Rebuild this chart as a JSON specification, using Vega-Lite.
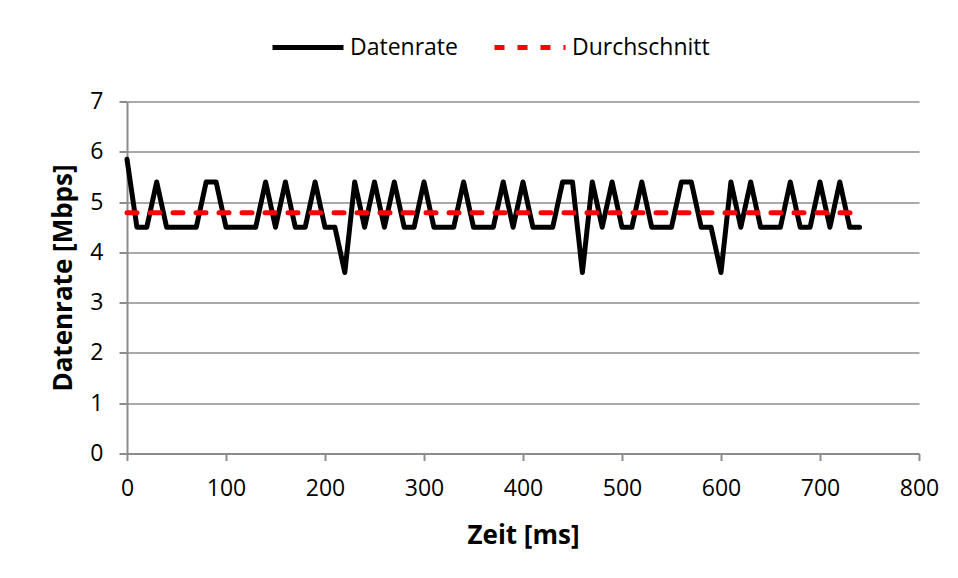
{
  "$schema": "https://vega.github.io/schema/vega-lite/v6.json",
  "width": 792,
  "height": 352,
  "autosize": {"type": "none"},
  "padding": {"left": 127, "top": 101.5, "right": 39, "bottom": 124.5},
  "background": "white",
  "config": {
    "font": "Open Sans",
    "view": {"stroke": null},
    "axis": {
      "gridColor": "#8c8c8c",
      "gridWidth": 1.5,
      "domainColor": "#8c8c8c",
      "domainWidth": 2,
      "tickColor": "#8c8c8c",
      "tickWidth": 2,
      "labelColor": "#000000",
      "labelFontSize": 23,
      "labelFont": "Open Sans",
      "labelFlush": false,
      "labelOverlap": false,
      "titleFont": "Open Sans",
      "titleFontSize": 26,
      "titleFontWeight": "bold",
      "titleColor": "#000000"
    }
  },
  "data": {
    "values": [
      {"t": 0, "v": 5.85, "s": "Datenrate"},
      {"t": 10, "v": 4.5, "s": "Datenrate"},
      {"t": 20, "v": 4.5, "s": "Datenrate"},
      {"t": 30, "v": 5.4, "s": "Datenrate"},
      {"t": 40, "v": 4.5, "s": "Datenrate"},
      {"t": 50, "v": 4.5, "s": "Datenrate"},
      {"t": 60, "v": 4.5, "s": "Datenrate"},
      {"t": 70, "v": 4.5, "s": "Datenrate"},
      {"t": 80, "v": 5.4, "s": "Datenrate"},
      {"t": 90, "v": 5.4, "s": "Datenrate"},
      {"t": 100, "v": 4.5, "s": "Datenrate"},
      {"t": 110, "v": 4.5, "s": "Datenrate"},
      {"t": 120, "v": 4.5, "s": "Datenrate"},
      {"t": 130, "v": 4.5, "s": "Datenrate"},
      {"t": 140, "v": 5.4, "s": "Datenrate"},
      {"t": 150, "v": 4.5, "s": "Datenrate"},
      {"t": 160, "v": 5.4, "s": "Datenrate"},
      {"t": 170, "v": 4.5, "s": "Datenrate"},
      {"t": 180, "v": 4.5, "s": "Datenrate"},
      {"t": 190, "v": 5.4, "s": "Datenrate"},
      {"t": 200, "v": 4.5, "s": "Datenrate"},
      {"t": 210, "v": 4.5, "s": "Datenrate"},
      {"t": 220, "v": 3.6, "s": "Datenrate"},
      {"t": 230, "v": 5.4, "s": "Datenrate"},
      {"t": 240, "v": 4.5, "s": "Datenrate"},
      {"t": 250, "v": 5.4, "s": "Datenrate"},
      {"t": 260, "v": 4.5, "s": "Datenrate"},
      {"t": 270, "v": 5.4, "s": "Datenrate"},
      {"t": 280, "v": 4.5, "s": "Datenrate"},
      {"t": 290, "v": 4.5, "s": "Datenrate"},
      {"t": 300, "v": 5.4, "s": "Datenrate"},
      {"t": 310, "v": 4.5, "s": "Datenrate"},
      {"t": 320, "v": 4.5, "s": "Datenrate"},
      {"t": 330, "v": 4.5, "s": "Datenrate"},
      {"t": 340, "v": 5.4, "s": "Datenrate"},
      {"t": 350, "v": 4.5, "s": "Datenrate"},
      {"t": 360, "v": 4.5, "s": "Datenrate"},
      {"t": 370, "v": 4.5, "s": "Datenrate"},
      {"t": 380, "v": 5.4, "s": "Datenrate"},
      {"t": 390, "v": 4.5, "s": "Datenrate"},
      {"t": 400, "v": 5.4, "s": "Datenrate"},
      {"t": 410, "v": 4.5, "s": "Datenrate"},
      {"t": 420, "v": 4.5, "s": "Datenrate"},
      {"t": 430, "v": 4.5, "s": "Datenrate"},
      {"t": 440, "v": 5.4, "s": "Datenrate"},
      {"t": 450, "v": 5.4, "s": "Datenrate"},
      {"t": 460, "v": 3.6, "s": "Datenrate"},
      {"t": 470, "v": 5.4, "s": "Datenrate"},
      {"t": 480, "v": 4.5, "s": "Datenrate"},
      {"t": 490, "v": 5.4, "s": "Datenrate"},
      {"t": 500, "v": 4.5, "s": "Datenrate"},
      {"t": 510, "v": 4.5, "s": "Datenrate"},
      {"t": 520, "v": 5.4, "s": "Datenrate"},
      {"t": 530, "v": 4.5, "s": "Datenrate"},
      {"t": 540, "v": 4.5, "s": "Datenrate"},
      {"t": 550, "v": 4.5, "s": "Datenrate"},
      {"t": 560, "v": 5.4, "s": "Datenrate"},
      {"t": 570, "v": 5.4, "s": "Datenrate"},
      {"t": 580, "v": 4.5, "s": "Datenrate"},
      {"t": 590, "v": 4.5, "s": "Datenrate"},
      {"t": 600, "v": 3.6, "s": "Datenrate"},
      {"t": 610, "v": 5.4, "s": "Datenrate"},
      {"t": 620, "v": 4.5, "s": "Datenrate"},
      {"t": 630, "v": 5.4, "s": "Datenrate"},
      {"t": 640, "v": 4.5, "s": "Datenrate"},
      {"t": 650, "v": 4.5, "s": "Datenrate"},
      {"t": 660, "v": 4.5, "s": "Datenrate"},
      {"t": 670, "v": 5.4, "s": "Datenrate"},
      {"t": 680, "v": 4.5, "s": "Datenrate"},
      {"t": 690, "v": 4.5, "s": "Datenrate"},
      {"t": 700, "v": 5.4, "s": "Datenrate"},
      {"t": 710, "v": 4.5, "s": "Datenrate"},
      {"t": 720, "v": 5.4, "s": "Datenrate"},
      {"t": 730, "v": 4.5, "s": "Datenrate"},
      {"t": 740, "v": 4.5, "s": "Datenrate"},
      {"t": 0, "v": 4.79, "s": "Durchschnitt"},
      {"t": 740, "v": 4.79, "s": "Durchschnitt"}
    ]
  },
  "mark": {"type": "line", "strokeWidth": 5, "strokeCap": "round", "strokeJoin": "round"},
  "encoding": {
    "x": {
      "field": "t",
      "type": "quantitative",
      "scale": {"domain": [0, 800], "nice": false},
      "axis": {
        "title": "Zeit [ms]",
        "values": [0, 100, 200, 300, 400, 500, 600, 700, 800],
        "grid": false,
        "tickSize": 7,
        "labelPadding": 28,
        "labelBaseline": "middle",
        "titleBaseline": "middle",
        "titleY": 82
      }
    },
    "y": {
      "field": "v",
      "type": "quantitative",
      "scale": {"domain": [0, 7], "nice": false},
      "axis": {
        "title": "Datenrate [Mbps]",
        "values": [0, 1, 2, 3, 4, 5, 6, 7],
        "tickSize": 8,
        "labelPadding": 16,
        "titleBaseline": "middle",
        "titleX": -64
      }
    },
    "color": {
      "field": "s",
      "type": "nominal",
      "scale": {"domain": ["Datenrate", "Durchschnitt"], "range": ["#000000", "#ff0000"]},
      "legend": {
        "title": null,
        "orient": "none",
        "direction": "horizontal",
        "legendX": 143,
        "legendY": -92,
        "padding": 0,
        "symbolType": "stroke",
        "symbolSize": 5041,
        "symbolStrokeWidth": 5,
        "labelFontSize": 23,
        "labelFont": "Open Sans",
        "labelColor": "#000000",
        "labelOffset": 4,
        "columnPadding": 26
      }
    },
    "strokeDash": {
      "field": "s",
      "type": "nominal",
      "scale": {"domain": ["Datenrate", "Durchschnitt"], "range": [[1, 0], [10, 13]]},
      "legend": null
    }
  }
}
